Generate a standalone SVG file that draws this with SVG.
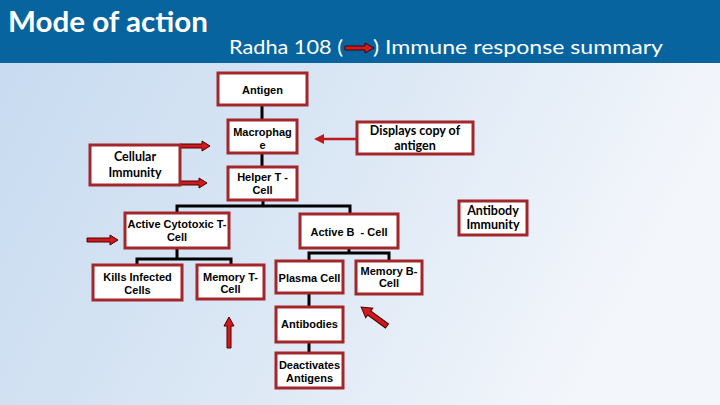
<svg xmlns="http://www.w3.org/2000/svg" width="720" height="405" viewBox="0 0 720 405">
<defs>
<linearGradient id="bg" x1="0" y1="0" x2="1" y2="0.3">
<stop offset="0" stop-color="#c6daf0"/>
<stop offset="0.5" stop-color="#d9e6f4"/>
<stop offset="1" stop-color="#f3f6fb"/>
</linearGradient>
<marker id="thinHead" viewBox="0 0 10 10" refX="2" refY="5" markerWidth="4" markerHeight="4" orient="auto">
<path d="M0,0 L10,5 L0,10 z" fill="#c0181c"/>
</marker>
</defs>
<style>
.box{fill:#ffffff;stroke:#a3262a;stroke-width:3}
.t{font-family:"Liberation Sans",Arial,sans-serif;font-weight:bold;font-size:11px;fill:#000;text-anchor:middle}
.c{font-family:Lato,"Open Sans",sans-serif;font-weight:bold;font-size:12.5px;fill:#000;text-anchor:middle}
.ln{stroke:#000;stroke-width:3;fill:none}
.ar{fill:#d01a1e;stroke:#4a0000;stroke-width:1}
</style>
<rect x="0" y="0" width="720" height="405" fill="url(#bg)"/>
<rect x="0" y="0" width="720" height="63" fill="#07649e"/>
<text x="8" y="32" font-family="Lato,'Open Sans',sans-serif" font-weight="bold" font-size="28" fill="#ffffff" textLength="200" lengthAdjust="spacingAndGlyphs">Mode of action</text>
<text x="229" y="54" font-family="Lato,'Open Sans',sans-serif" font-size="20" fill="#ffffff" textLength="114" lengthAdjust="spacingAndGlyphs">Radha 108 (</text>
<text x="373" y="54" font-family="Lato,'Open Sans',sans-serif" font-size="20" fill="#ffffff" textLength="290" lengthAdjust="spacingAndGlyphs">) Immune response summary</text>
<path class="ar" d="M345,46 L365,46 L365,43 L374,48 L365,53 L365,50 L345,50 z"/>

<g id="connectors">
<line class="ln" x1="262" y1="105" x2="262" y2="120"/>
<line class="ln" x1="262" y1="153" x2="262" y2="167"/>
<polyline class="ln" points="263,200 263,206"/>
<polyline class="ln" points="177,213 177,206 350,206 350,214"/>
<polyline class="ln" points="177,248 177,259"/>
<polyline class="ln" points="137,265 137,259 231,259 231,265"/>
<polyline class="ln" points="349,248 349,253"/>
<polyline class="ln" points="309,261 309,253 389,253 389,261"/>
<line class="ln" x1="309" y1="293" x2="309" y2="307"/>
<line class="ln" x1="309" y1="342" x2="309" y2="353"/>
<line x1="357" y1="139" x2="322" y2="139" stroke="#c0181c" stroke-width="2.5" marker-end="url(#thinHead)"/>
<path class="ar" d="M180,144 L202,144 L202,141 L210,146 L202,151 L202,148 L180,148 z"/>
<path class="ar" d="M176,181 L199,181 L199,178 L207,183 L199,188 L199,185 L176,185 z"/>
<path class="ar" d="M87,238 L110,238 L110,235 L118,240 L110,245 L110,242 L87,242 z"/>
<path class="ar" d="M227,348 L227,326 L224,326 L229,317 L234,326 L231,326 L231,348 z"/>
<path class="ar" d="M0,-2.5 L22,-2.5 L22,-6 L32,0 L22,6 L22,2.5 L0,2.5 z" transform="translate(387,326) rotate(216.2)"/>
</g>

<g id="antigen"><rect class="box" x="218" y="73" width="89" height="32"/><text class="t" x="262.5" y="94">Antigen</text></g>
<g id="macrophage"><rect class="box" x="228" y="120" width="69" height="33"/><text class="t" x="262.5" y="136">Macrophag</text><text class="t" x="262.5" y="149">e</text></g>
<g id="helper-t"><rect class="box" x="228" y="167" width="69" height="33"/><text class="t" x="262.5" y="181">Helper T -</text><text class="t" x="262.5" y="194">Cell</text></g>
<g id="cellular-immunity"><rect class="box" x="90" y="145" width="90" height="40"/><text class="c" x="135" y="161">Cellular</text><text class="c" x="135" y="177">Immunity</text></g>
<g id="displays-copy"><rect class="box" x="357" y="122" width="116" height="32"/><text class="c" x="415" y="135">Displays copy of</text><text class="c" x="415" y="150">antigen</text></g>
<g id="cytotoxic-t"><rect class="box" x="125" y="213" width="104" height="35"/><text class="t" x="177" y="228">Active Cytotoxic T-</text><text class="t" x="177" y="241">Cell</text></g>
<g id="active-b"><rect class="box" x="300" y="214" width="98" height="34"/><text class="t" x="349" y="236" xml:space="preserve">Active B  - Cell</text></g>
<g id="kills-infected"><rect class="box" x="93" y="265" width="89" height="35"/><text class="t" x="137.5" y="281">Kills Infected</text><text class="t" x="137.5" y="294">Cells</text></g>
<g id="memory-t"><rect class="box" x="197" y="265" width="67" height="34"/><text class="t" x="230.5" y="281">Memory T-</text><text class="t" x="230.5" y="293">Cell</text></g>
<g id="plasma"><rect class="box" x="276" y="261" width="67" height="32"/><text class="t" x="309.5" y="282">Plasma Cell</text></g>
<g id="memory-b"><rect class="box" x="356" y="261" width="66" height="33"/><text class="t" x="389" y="275">Memory B-</text><text class="t" x="389" y="287">Cell</text></g>
<g id="antibody-immunity"><rect class="box" x="459" y="201" width="68" height="34"/><text class="c" x="493" y="215">Antibody</text><text class="c" x="493" y="229">Immunity</text></g>
<g id="antibodies"><rect class="box" x="276" y="307" width="67" height="35"/><text class="t" x="309.5" y="328">Antibodies</text></g>
<g id="deactivates"><rect class="box" x="276" y="353" width="67" height="35"/><text class="t" x="309.5" y="369">Deactivates</text><text class="t" x="309.5" y="382">Antigens</text></g>
</svg>
